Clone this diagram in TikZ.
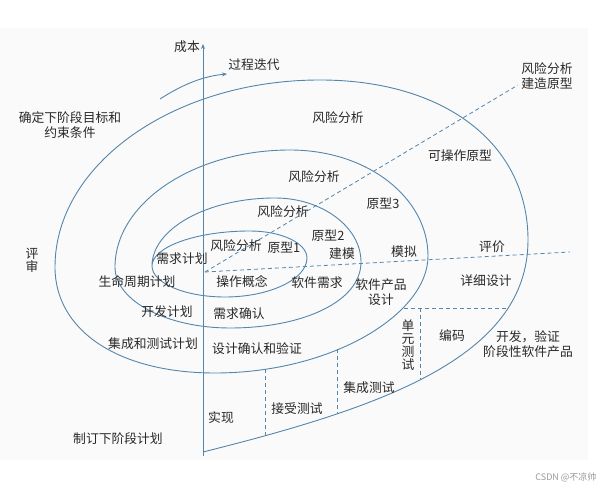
\documentclass[tikz,border=0pt]{standalone}
\usepackage{fontspec}
\newfontfamily\cjk{Noto Sans CJK SC}
\usepackage{tikz}
\usetikzlibrary{arrows.meta,positioning}

\definecolor{spiralblue}{RGB}{84,134,172}
\definecolor{labeltext}{RGB}{40,40,40}

\begin{document}
\begin{tikzpicture}[
  x=1pt, y=-1pt,
  spiral/.style={draw=spiralblue, line width=0.9pt},
  divider/.style={draw=spiralblue, line width=0.8pt, dash pattern=on 4pt off 3pt},
  lbl/.style={font=\cjk\fontsize{12.8}{15}\selectfont, text=labeltext,
              inner sep=0pt, align=center},
  vlbl/.style={lbl, font=\cjk\fontsize{12.8}{13}\selectfont},
]
\useasboundingbox (0,0) rectangle (603,489);
\fill[black!2] (0,28) rectangle (588,460);

% Axis
\coordinate (axisbot) at (203,456);
\coordinate (axistop) at (203,44);
\draw[spiral, -{Stealth[length=5pt,width=4pt]}] (axisbot) -- (axistop);
\node[lbl, left=3pt of axistop, yshift=-3pt] (cost) {成本};

% Iteration arrow
\coordinate (iterstart) at (160,99);
\coordinate (iterend) at (227,74);
\draw[spiral, -{Stealth[length=5pt,width=4pt]}] (iterstart)
    .. controls (185,83) and (205,76) .. (iterend);
\node[lbl] (iter) at (254,65) {过程迭代};

% Spiral
\coordinate (l1) at (152,266);
\coordinate (t1) at (250,231);
\coordinate (r1) at (307,258);
\coordinate (b1) at (225,297);
\coordinate (t2) at (275,198);
\coordinate (r2) at (361,262);
\coordinate (b2) at (230,328);
\coordinate (l2) at (115,267);
\coordinate (t3) at (290,150);
\coordinate (r3) at (428,256);
\coordinate (b3) at (215,373);
\coordinate (l3) at (55,267);
\coordinate (t4) at (320,80);
\coordinate (r4) at (528,240);
\coordinate (b4) at (203,452);
\draw[spiral] (l1)
  .. controls (152,247) and (196,231) .. (t1)
  .. controls (281,231) and (307,243) .. (r1)
  .. controls (307,279) and (270,297) .. (b1)
  .. controls (185,297) and (152,283) .. (l1)
  .. controls (152,229) and (207,198) .. (t2)
  .. controls (322,198) and (361,227) .. (r2)
  .. controls (361,302) and (302,328) .. (b2)
  .. controls (167,328) and (115,301) .. (l2)
  .. controls (115,203) and (194,150) .. (t3)
  .. controls (368,150) and (428,198) .. (r3)
  .. controls (428,314) and (332,373) .. (b3)
  .. controls (119,373) and (55,331) .. (l3)
  .. controls (55,164) and (174,80) .. (t4)
  .. controls (445,80) and (528,144) .. (r4)
  .. controls (528,357) and (383,407) .. (b4);

% Dashed dividers
\coordinate (origin) at (205,272);
\coordinate (evalend) at (570,252);
\coordinate (riskend) at (518,85);
\draw[divider] (origin) -- (evalend);
\draw[divider] (origin) -- (riskend);
\coordinate (codeleft) at (404,308);
\coordinate (coderight) at (508,308);
\coordinate (codebot) at (420,379);
\draw[divider] (codeleft) -- (coderight);
\draw[divider] (codeleft -| codebot) -- (codebot);
\draw[divider] (337,349) -- (337,414);
\draw[divider] (265,369) -- (265,436);

% Quadrant labels
\node[lbl] (goal) at (70,125) {确定下阶段目标和\\约束条件};
\node[vlbl] (review) at (32,260) {评\\审};
\node[lbl] (nextplan) at (118,439) {制订下阶段计划};
\node[lbl] (devver) at (528,344) {开发，验证\\阶段性软件产品};
\node[lbl] (riskproto) at (547,76) {风险分析\\建造原型};

% Risk analysis
\node[lbl] (risk4) at (338,118) {风险分析};
\node[lbl] (oproto) at (460,156) {可操作原型};
\node[lbl] (risk3) at (314,177) {风险分析};
\node[lbl] (proto3) at (383,204) {原型3};
\node[lbl] (risk2) at (283,212) {风险分析};
\node[lbl] (proto2) at (328,236) {原型2};
\node[lbl] (risk1) at (236,246) {风险分析};
\node[lbl] (proto1) at (284,248) {原型1};

% Development
\node[lbl] (model) at (342,254) {建模};
\node[lbl] (simul) at (404,252) {模拟};
\node[lbl] (eval) at (492,247) {评价};
\node[lbl] (opconcept) at (242,282) {操作概念};
\node[lbl] (swreq) at (317,283) {软件需求};
\node[lbl] (prod) at (381,292) {软件产品\\设计};
\node[lbl] (detail) at (486,281) {详细设计};
\node[lbl] (reqval) at (239,314) {需求确认};
\node[lbl] (desval) at (257,349) {设计确认和验证};
\node[vlbl] (unittest) at (408,345) {单\\元\\测\\试};
\node[lbl] (coding) at (452,336) {编码};
\node[lbl] (inttest) at (369,388) {集成测试};
\node[lbl] (acctest) at (297,409) {接受测试};
\node[lbl] (impl) at (221,418) {实现};

% Planning
\node[lbl] (reqplan) at (182,259) {需求计划};
\node[lbl] (lifeplan) at (137,282) {生命周期计划};
\node[lbl] (devplan) at (167,312) {开发计划};
\node[lbl] (itplan) at (153,344) {集成和测试计划};

\node[font=\cjk\fontsize{9}{10}\selectfont, text=black!40, anchor=east]
    (mark) at (600,477) {CSDN @不凉帅};
\end{tikzpicture}
\end{document}
